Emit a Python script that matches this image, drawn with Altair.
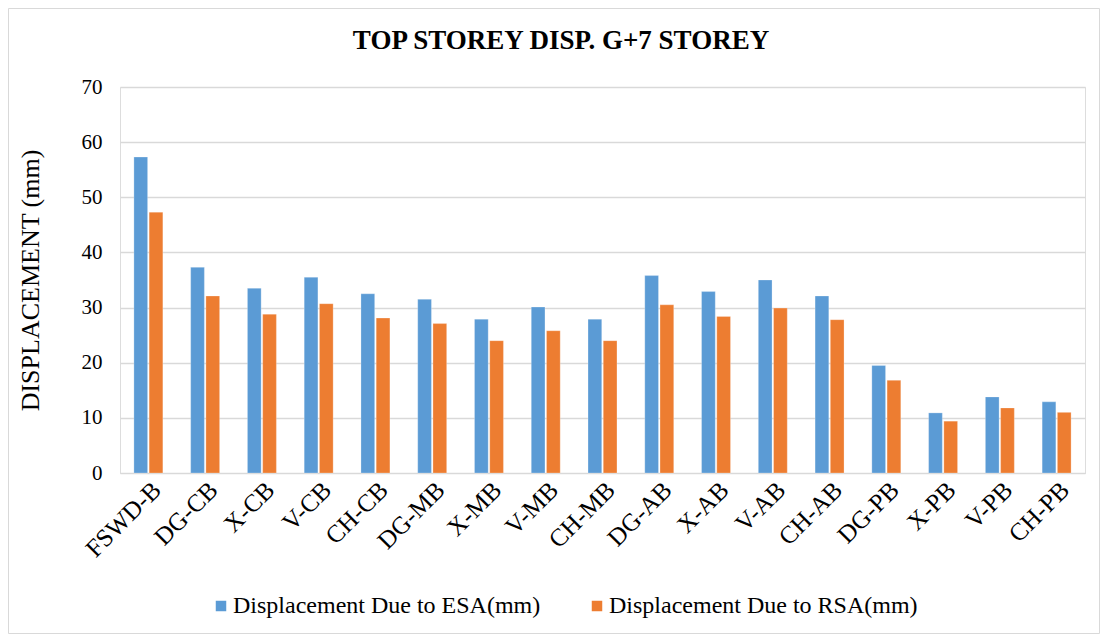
import altair as alt
import pandas as pd

categories = ["FSWD-B", "DG-CB", "X-CB", "V-CB", "CH-CB", "DG-MB", "X-MB", "V-MB", "CH-MB",
              "DG-AB", "X-AB", "V-AB", "CH-AB", "DG-PB", "X-PB", "V-PB", "CH-PB"]
esa = [57.3, 37.3, 33.5, 35.5, 32.5, 31.5, 27.9, 30.1, 27.9,
       35.8, 32.9, 35.0, 32.1, 19.5, 10.9, 13.8, 12.9]
rsa = [47.3, 32.1, 28.8, 30.7, 28.1, 27.1, 24.0, 25.8, 24.0,
       30.5, 28.4, 29.9, 27.8, 16.8, 9.4, 11.8, 11.0]
series = ["Displacement Due to ESA(mm)", "Displacement Due to RSA(mm)"]
colors = ["#5B9BD5", "#ED7D31"]
chart_title = "TOP STOREY DISP. G+7 STOREY"

rows = []
for c, e, r in zip(categories, esa, rsa):
    rows.append({"cat": c, "series": series[0], "val": e})
    rows.append({"cat": c, "series": series[1], "val": r})
df = pd.DataFrame(rows)

W, H = 965, 386
FONT = "Liberation Serif"

bars = alt.Chart(df).mark_bar(stroke="white", strokeOpacity=0.5, strokeWidth=0.5).encode(
    x=alt.X("cat:N", sort=categories, title=None,
            scale=alt.Scale(paddingInner=0.49, paddingOuter=0.245),
            axis=alt.Axis(labelAngle=-45, labelFontSize=25, labelFont=FONT, labelColor="black",
                          ticks=False, domainColor="#D9D9D9", labelPadding=4)),
    xOffset=alt.XOffset("series:N", scale=alt.Scale(paddingInner=0.1)),
    y=alt.Y("val:Q", title="DISPLACEMENT (mm)",
            scale=alt.Scale(domain=[0, 70]),
            axis=alt.Axis(values=list(range(0, 71, 10)), labelFontSize=21, labelFont=FONT,
                          labelColor="black", ticks=False, domain=False, gridColor="#D9D9D9",
                          gridWidth=1.3, titleFont=FONT, titleFontSize=26, titleFontWeight="normal",
                          titleColor="black", titlePadding=38, labelPadding=18)),
    color=alt.Color("series:N", scale=alt.Scale(domain=series, range=colors),
                    legend=alt.Legend(orient="none", legendX=89, legendY=507, direction="horizontal",
                                      title=None, symbolType="square", symbolSize=110,
                                      symbolStrokeWidth=0, labelFont=FONT, labelFontSize=24,
                                      labelColor="black", columnPadding=44, labelOffset=0,
                                      labelLimit=400)),
)

border = alt.Chart(pd.DataFrame({"a": [0]})).mark_rect(fill=None, stroke="#D9D9D9", strokeWidth=1).encode(
    x=alt.value(-111.5), x2=alt.value(W + 14.5), y=alt.value(-78.5), y2=alt.value(H + 160.5)
)

title = alt.Chart(pd.DataFrame({"t": [chart_title]})).mark_text(
    font=FONT, fontSize=27, fontWeight="bold", color="black", align="center", baseline="middle"
).encode(text="t:N", x=alt.value(441), y=alt.value(-46))

chart = alt.layer(border, bars, title).properties(
    width=W, height=H,
    autosize=alt.AutoSizeParams(type="none"),
    padding={"left": 112, "top": 79, "right": 15, "bottom": 162},
).configure_view(stroke=None).configure(background="white")

chart.save("out.html", embed_options={"renderer": "svg", "actions": False})
